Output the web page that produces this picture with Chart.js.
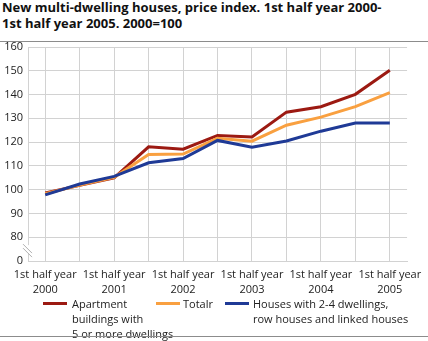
<!DOCTYPE html>
<html>
<head>
<meta charset="utf-8">
<script src="https://cdn.jsdelivr.net/npm/chart.js@4/dist/chart.umd.min.js"></script>
<style>
  body { margin: 0; background: #fff; font-family: "Open Sans", sans-serif; color: #222; }
  #wrap { position: relative; width: 428px; height: 341px; overflow: hidden; }
  #title { position: absolute; left: 2px; top: -1px; font-size: 13px; font-weight: bold; line-height: 16px; color: #111; }
  .rule { position: absolute; left: 0; width: 428px; height: 1px; background: #8c8c8c; }
  #myChart { position: absolute; left: 0; top: 0; }
  .item { position: absolute; top: 296px; font-size: 11px; line-height: 15px; color: #222; }
  .swatch { position: absolute; top: 6px; width: 24px; height: 3px; }
  .txt { position: absolute; white-space: nowrap; }
</style>
</head>
<body>
<div id="wrap">
  <div id="title">New multi-dwelling houses, price index. 1st half year 2000-<br>1st half year 2005. 2000=100</div>
  <div class="rule" style="top:41px"></div>
  <canvas id="myChart" width="428" height="341"></canvas>
  <div id="legend"></div>
  <div class="rule" style="top:336px"></div>
</div>
<script>
// half years, 1st half 2000 .. 1st half 2005
var periods = ['2000 H1', '2000 H2', '2001 H1', '2001 H2', '2002 H1', '2002 H2',
               '2003 H1', '2003 H2', '2004 H1', '2004 H2', '2005 H1'];
var tickLabels = [['1st half year', '2000'], '', ['1st half year', '2001'], '', ['1st half year', '2002'], '',
                  ['1st half year', '2003'], '', ['1st half year', '2004'], '', ['1st half year', '2005']];

var apartments = [98.6, 101.8, 105.0, 118.0, 117.0, 122.8, 122.2, 132.6, 134.9, 140.1, 150.2];
var total      = [98.3, 101.9, 105.2, 114.8, 115.0, 121.6, 120.4, 127.1, 130.5, 134.9, 140.8];
var houses     = [97.8, 102.4, 105.6, 111.3, 113.1, 120.7, 117.8, 120.5, 124.6, 128.0, 128.0];

var seriesNames = [['Apartment', 'buildings with', '5 or more dwellings'], ['Totalr'],
                   ['Houses with 2-4 dwellings,', 'row houses and linked houses']];
var colors = ['#9c1a12', '#f9a040', '#1f3a96'];

var gridColor = '#d2d2d2';

// the "0" tick sits where 70 would be, the axis is broken between 0 and 80
var axisBreak = {
  id: 'axisBreak',
  afterDraw: function(chart) {
    var c = chart.ctx;
    var y = chart.scales.y.getPixelForValue(75);
    var x = chart.chartArea.left;
    c.save();
    c.fillStyle = '#fff';
    c.fillRect(x - 2, y - 4, 5, 8);
    c.strokeStyle = '#b0b0b0';
    c.lineWidth = 1;
    c.beginPath();
    c.moveTo(x - 5, y - 5); c.lineTo(x + 4, y + 4);
    c.moveTo(x - 5, y - 1); c.lineTo(x + 4, y + 8);
    c.stroke();
    c.restore();
  }
};

var ctx = document.getElementById('myChart');
var sets = [apartments, total, houses];
var myChart = new Chart(ctx, {
  type: 'line',
  data: {
    labels: periods,
    datasets: sets.map(function(d, i) {
      return {
        label: seriesNames[i].join(' '),
        data: d,
        borderColor: colors[i],
        backgroundColor: colors[i],
        borderWidth: 3,
        pointRadius: 0,
        tension: 0,
        order: 3 - i
      };
    })
  },
  options: {
    responsive: false,
    animation: false,
    layout: { padding: { top: 47, right: 17, left: 0, bottom: 0 } },
    plugins: { legend: { display: false }, tooltip: { enabled: false } },
    scales: {
      x: {
        type: 'category',
        offset: true,
        grid: { offset: false, color: gridColor, drawTicks: false },
        border: { color: gridColor },
        ticks: {
          autoSkip: false, maxRotation: 0, padding: 6,
          color: '#222', font: { family: 'Open Sans', size: 11, lineHeight: 1.36 },
          callback: function(v, i) { return tickLabels[i]; }
        },
        afterFit: function(s) { s.height = 80; }
      },
      y: {
        min: 70, max: 160,
        grid: { color: gridColor, drawTicks: false },
        border: { color: gridColor },
        ticks: {
          stepSize: 10, padding: 5,
          color: '#222', font: { family: 'Open Sans', size: 11 },
          callback: function(v) { return v == 70 ? '0' : v; }
        },
        afterFit: function(s) { s.width = 28; }
      }
    }
  },
  plugins: [axisBreak]
});

// legend with wrapped labels
var legendPos = [[43, 72], [156, 183], [225, 253]];
var legend = document.getElementById('legend');
seriesNames.forEach(function(lines, i) {
  var it = document.createElement('div');
  it.className = 'item';
  it.style.left = legendPos[i][0] + 'px';
  var sw = document.createElement('div');
  sw.className = 'swatch';
  sw.style.background = colors[i];
  sw.style.left = '0px';
  var tx = document.createElement('div');
  tx.className = 'txt';
  tx.style.left = (legendPos[i][1] - legendPos[i][0]) + 'px';
  tx.innerHTML = lines.join('<br>');
  it.appendChild(sw);
  it.appendChild(tx);
  legend.appendChild(it);
});
</script>
</body>
</html>
